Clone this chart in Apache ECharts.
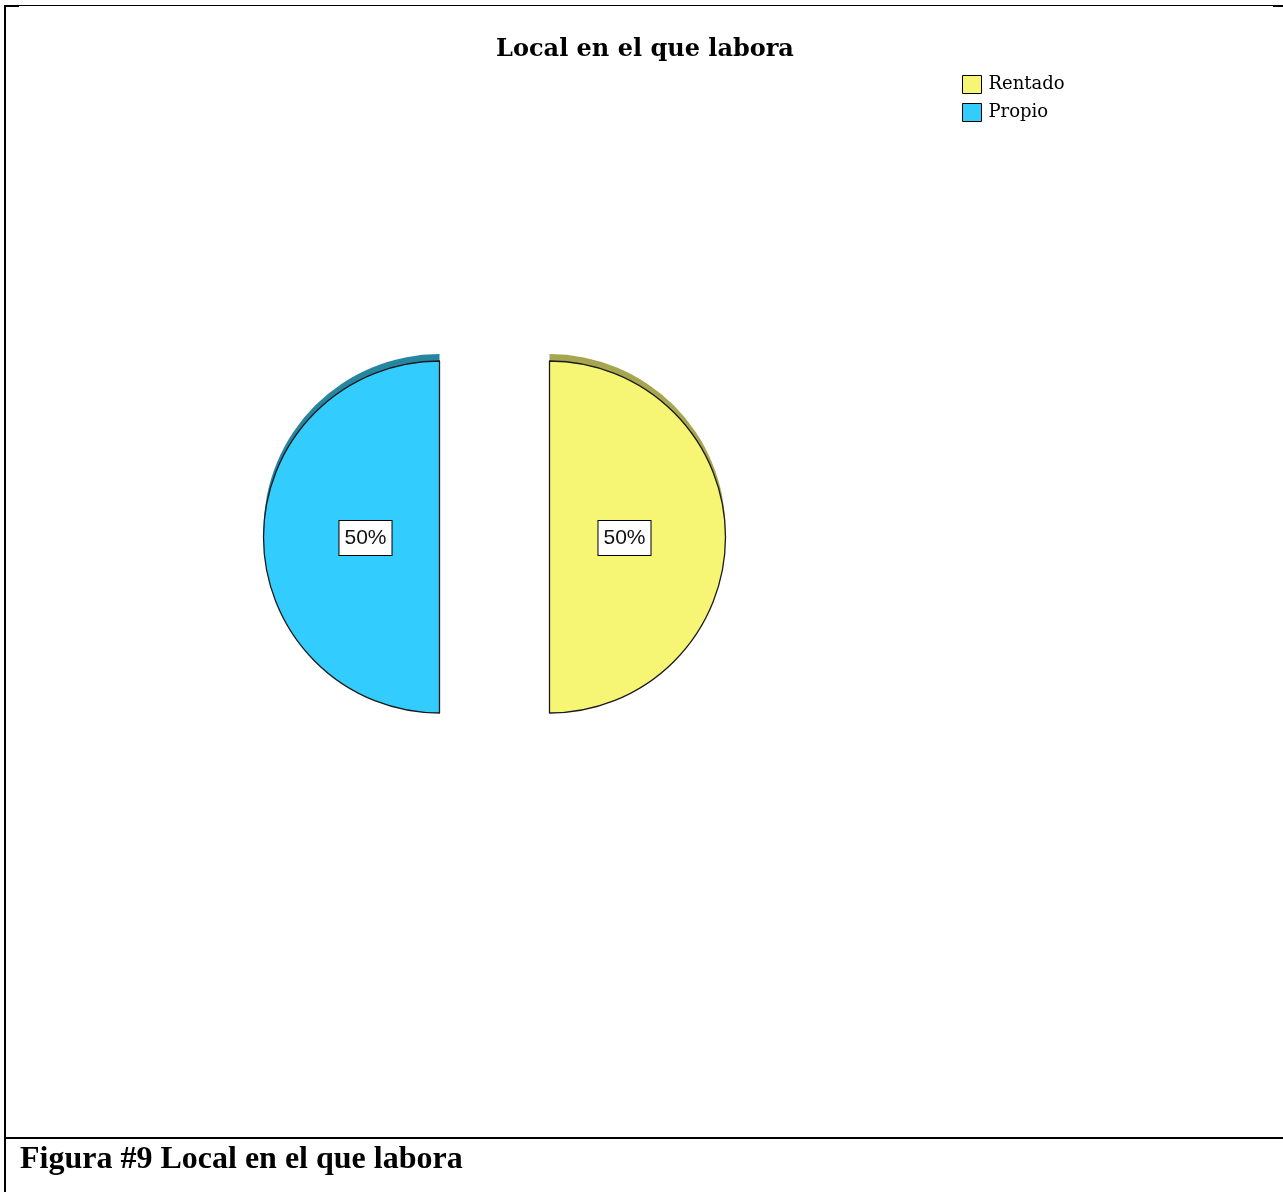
<!DOCTYPE html>
<html>
<head>
<meta charset="utf-8">
<title>Local en el que labora</title>
<script src="https://cdn.jsdelivr.net/npm/echarts@6/dist/echarts.min.js"></script>
<style>
  html, body { margin: 0; padding: 0; background: #ffffff; }
  #chart { width: 1283px; height: 1192px; }
</style>
</head>
<body>
<div id="chart"></div>
<script>
// Survey answers: type of premises where the respondent works
const categories = ['Rentado', 'Propio'];
const shares = [50, 50];

// Face colours, and the darker tones used for the top rim of the pie
const faceColors = ['#f7f574', '#33ccff'];
const rimColors = ['#a6a650', '#27869f'];
// Nudges the percentage boxes toward the flat edge of each half
const labelShift = [[-16, 1], [17, 1]];

const chart = echarts.init(document.getElementById('chart'), null, { renderer: 'canvas' });

const cx = 494.5;
const cy = 537;
const radius = 176;
const rimDepth = 7;
const explode = 55;

const frontData = categories.map((name, i) => ({
  name: name,
  value: shares[i],
  selected: true,
  itemStyle: { color: faceColors[i] }
}));

const rimData = categories.map((name, i) => ({
  name: name,
  value: shares[i],
  selected: true,
  itemStyle: { color: rimColors[i] }
}));

chart.setOption({
  animation: false,
  backgroundColor: '#ffffff',
  title: [
    {
      text: 'Local en el que labora',
      left: 645,
      top: 38,
      padding: 0,
      textAlign: 'center',
      textStyle: {
        fontFamily: 'DejaVu Serif',
        fontWeight: 'bold',
        fontSize: 24,
        color: '#000000'
      }
    },
    {
      text: 'Figura #9 Local en el que labora',
      left: 20,
      top: 1144,
      padding: 0,
      textStyle: {
        fontFamily: 'Liberation Serif',
        fontWeight: 'bold',
        fontSize: 32,
        color: '#000000'
      }
    }
  ],
  legend: {
    orient: 'vertical',
    left: 962,
    top: 75,
    padding: 0,
    itemWidth: 19,
    itemHeight: 18,
    itemGap: 9,
    icon: 'rect',
    selectedMode: false,
    data: categories,
    itemStyle: { borderColor: '#000000', borderWidth: 1 },
    textStyle: {
      fontFamily: 'DejaVu Serif',
      fontSize: 18,
      color: '#000000',
      padding: [0, 0, 0, 2]
    }
  },
  graphic: [
    { type: 'rect', shape: { x: 4, y: 5, width: 1279, height: 1 }, style: { fill: '#000000' }, silent: true },
    { type: 'rect', shape: { x: 4, y: 5, width: 15, height: 2 }, style: { fill: '#000000' }, silent: true },
    { type: 'rect', shape: { x: 1273, y: 5, width: 10, height: 2 }, style: { fill: '#000000' }, silent: true },
    { type: 'rect', shape: { x: 4, y: 5, width: 2, height: 1187 }, style: { fill: '#000000' }, silent: true },
    { type: 'rect', shape: { x: 4, y: 1137, width: 1279, height: 2 }, style: { fill: '#000000' }, silent: true }
  ],
  series: [
    {
      name: 'Local en el que labora',
      type: 'pie',
      z: 3,
      center: [cx, cy],
      radius: radius,
      startAngle: 90,
      clockwise: true,
      selectedMode: 'multiple',
      selectedOffset: explode,
      silent: true,
      emphasis: { disabled: true },
      itemStyle: { borderColor: '#1a1a1a', borderWidth: 1.3 },
      labelLine: { show: false },
      label: {
        show: true,
        position: 'inside',
        formatter: '{c}%',
        fontFamily: 'Liberation Sans',
        fontSize: 21,
        lineHeight: 23,
        color: '#111111',
        backgroundColor: '#ffffff',
        borderColor: '#000000',
        borderWidth: 1,
        padding: [6, 5, 5, 5]
      },
      labelLayout: (params) => ({
        dx: labelShift[params.dataIndex][0],
        dy: labelShift[params.dataIndex][1]
      }),
      data: frontData
    },
    {
      name: 'rim',
      type: 'pie',
      z: 1,
      center: [cx, cy - rimDepth],
      radius: radius,
      startAngle: 90,
      clockwise: true,
      selectedMode: 'multiple',
      selectedOffset: explode,
      silent: true,
      emphasis: { disabled: true },
      itemStyle: { borderWidth: 0 },
      label: { show: false },
      labelLine: { show: false },
      data: rimData
    }
  ]
});
</script>
</body>
</html>
